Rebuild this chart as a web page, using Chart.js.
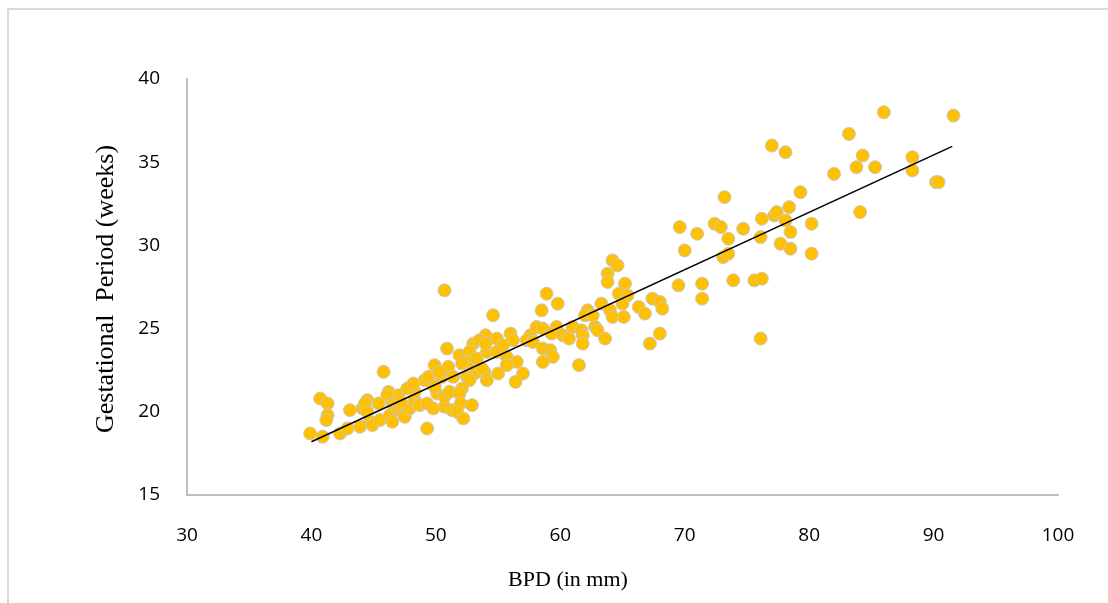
<!DOCTYPE html>
<html>
<head>
<meta charset="utf-8">
<script src="https://cdn.jsdelivr.net/npm/chart.js@4/dist/chart.umd.min.js"></script>
<style>
  html, body { margin: 0; padding: 0; background: #fff; overflow: hidden; }
  #frame { position: absolute; left: 7px; top: 8px; width: 1200px; height: 700px; border: 2px solid #d9d9d9; }
  #chart { position: absolute; left: 0; top: 0; }
</style>
</head>
<body>
<div id="frame"></div>
<canvas id="chart" width="1108" height="603"></canvas>
<script>
// BPD (mm) and gestational period (weeks)
const bpd = [
    39.9, 40.9, 40.7, 41.3, 41.3, 41.2, 42.3, 42.9, 43.1, 44.1,
    44.5, 44.3, 44.5, 44.7, 43.9, 44.9, 45.8, 46.2, 46.1, 45.4,
    45.5, 46.3, 46.5, 46.7, 47.0, 47.3, 46.5, 47.5, 47.9, 48.3,
    48.7, 49.3, 49.3, 49.8, 50.7, 51.3, 50.1, 50.7, 51.1, 49.9,
    48.3, 47.0, 47.7, 48.2, 49.1, 50.5, 49.9, 51.0, 50.7, 50.9,
    51.9, 53.0, 52.7, 54.1, 54.9, 54.0, 53.5, 54.0, 54.6, 54.9,
    56.0, 56.2, 57.6, 57.3, 57.8, 58.6, 59.2, 59.4, 58.6, 55.7,
    56.5, 55.7, 57.0, 56.4, 55.0, 54.1, 53.9, 52.6, 52.1, 53.1,
    52.5, 52.7, 51.4, 49.4, 49.9, 52.1, 51.9, 52.0, 52.9, 51.7,
    52.2, 58.9, 59.8, 58.5, 58.1, 58.6, 59.7, 59.3, 60.2, 60.7,
    61.0, 61.7, 61.8, 61.8, 61.5, 62.2, 62.0, 62.6, 62.8, 63.0,
    63.6, 63.3, 64.0, 64.2, 65.1, 63.8, 64.2, 64.6, 63.8, 65.2,
    64.7, 65.4, 65.0, 66.3, 66.8, 67.4, 68.0, 68.2, 67.2, 68.0,
    69.5, 69.6, 71.0, 70.0, 71.4, 71.4, 72.4, 72.9, 73.2, 74.7,
    73.5, 73.1, 73.5, 73.9, 75.6, 76.2, 76.1, 76.1, 76.2, 77.2,
    77.4, 78.4, 78.1, 78.5, 77.7, 78.5, 80.2, 80.2, 79.3, 77.0,
    78.1, 86.0, 91.6, 83.2, 84.3, 83.8, 85.3, 82.0, 88.3, 88.3,
    90.2, 90.4, 84.1, 53.3, 50.3, 55.4, 53.7, 47.2
];
const weeks = [
    18.7, 18.5, 20.8, 20.5, 19.8, 19.5, 18.7, 19.0, 20.1, 20.2,
    20.7, 20.5, 20.0, 19.4, 19.1, 19.2, 22.4, 21.2, 21.0, 20.5,
    19.5, 19.8, 20.5, 20.6, 20.1, 20.2, 19.4, 19.7, 20.2, 20.7,
    20.4, 20.5, 19.0, 20.2, 20.3, 20.1, 21.1, 20.9, 21.2, 21.6,
    21.2, 21.0, 21.4, 21.7, 21.9, 22.1, 22.8, 22.7, 27.3, 23.8,
    23.4, 24.1, 23.6, 23.6, 23.6, 24.6, 24.3, 24.1, 25.8, 24.4,
    24.7, 24.3, 24.6, 24.3, 24.2, 23.8, 23.7, 23.3, 23.0, 23.3,
    23.0, 22.8, 22.3, 21.8, 22.3, 21.9, 22.4, 23.0, 22.9, 22.3,
    22.1, 21.9, 22.1, 22.1, 21.5, 21.4, 21.1, 20.5, 20.4, 20.0,
    19.6, 27.1, 26.5, 26.1, 25.1, 25.0, 25.1, 24.7, 24.6, 24.4,
    25.1, 24.9, 24.6, 24.1, 22.8, 26.1, 25.8, 25.8, 25.1, 24.9,
    24.4, 26.5, 26.1, 25.7, 25.7, 28.3, 29.1, 28.8, 27.8, 27.7,
    27.1, 27.0, 26.5, 26.3, 25.9, 26.8, 26.6, 26.2, 24.1, 24.7,
    27.6, 31.1, 30.7, 29.7, 27.7, 26.8, 31.3, 31.1, 32.9, 31.0,
    30.4, 29.3, 29.5, 27.9, 27.9, 28.0, 24.4, 30.5, 31.6, 31.8,
    32.0, 32.3, 31.5, 30.8, 30.1, 29.8, 31.3, 29.5, 33.2, 36.0,
    35.6, 38.0, 37.8, 36.7, 35.4, 34.7, 34.7, 34.3, 35.3, 34.5,
    33.8, 33.8, 32.0, 23.2, 22.4, 24.0, 22.6, 20.6
];

// linear trend line end points
const trendX = [40, 91.5];
const trendY = [18.2, 35.95];

const xTicks = [30, 40, 50, 60, 70, 80, 90, 100];
const yTicks = [15, 20, 25, 30, 35, 40];

const xTitle = 'BPD (in mm)';
const yTitle = 'Gestational  Period (weeks)';

const axisTitles = {
    id: 'axisTitles',
    afterDraw(chart) {
        const ctx = chart.ctx;
        ctx.save();
        ctx.fillStyle = '#000';
        ctx.textAlign = 'center';
        ctx.textBaseline = 'middle';
        ctx.font = '22px "Liberation Serif"';
        ctx.fillText(xTitle, 568, 580);
        ctx.translate(106, 289);
        ctx.rotate(-Math.PI / 2);
        ctx.font = '26px "Liberation Serif"';
        ctx.fillText(yTitle, 0, 0);
        ctx.restore();
    }
};

Chart.defaults.font.family = '"Open Sans", sans-serif';
Chart.defaults.font.size = 19;
Chart.defaults.color = '#000';

const ctx = document.getElementById('chart').getContext('2d');
new Chart(ctx, {
    type: 'scatter',
    data: {
        datasets: [{
            type: 'line',
            data: trendX.map((x, i) => ({ x: x, y: trendY[i] })),
            borderColor: '#000',
            borderWidth: 1.5,
            pointRadius: 0,
            showLine: true,
            fill: false,
            order: 0
        }, {
            data: bpd.map((x, i) => ({ x: x, y: weeks[i] })),
            backgroundColor: '#FFC000',
            borderColor: '#c8c8c8',
            borderWidth: 1,
            pointRadius: 6.5,
            order: 1
        }]
    },
    options: {
        responsive: false,
        animation: false,
        layout: {
            padding: { top: 79, right: 50, left: 0, bottom: 0 }
        },
        plugins: {
            legend: { display: false },
            tooltip: { enabled: false }
        },
        scales: {
            x: {
                type: 'linear',
                min: xTicks[0],
                max: xTicks[xTicks.length - 1],
                afterBuildTicks: (scale) => { scale.ticks = xTicks.map(v => ({ value: v })); },
                grid: { display: false },
                border: { display: true, color: '#bfbfbf', width: 2 },
                ticks: { padding: 21 },
                afterFit: (scale) => { scale.height = 108; }
            },
            y: {
                type: 'linear',
                min: yTicks[0],
                max: yTicks[yTicks.length - 1],
                afterBuildTicks: (scale) => { scale.ticks = yTicks.map(v => ({ value: v })); },
                grid: { display: false },
                border: { display: true, color: '#bfbfbf', width: 2 },
                ticks: { padding: 19 },
                afterFit: (scale) => { scale.width = 187; }
            }
        }
    },
    plugins: [axisTitles]
});
</script>
</body>
</html>
